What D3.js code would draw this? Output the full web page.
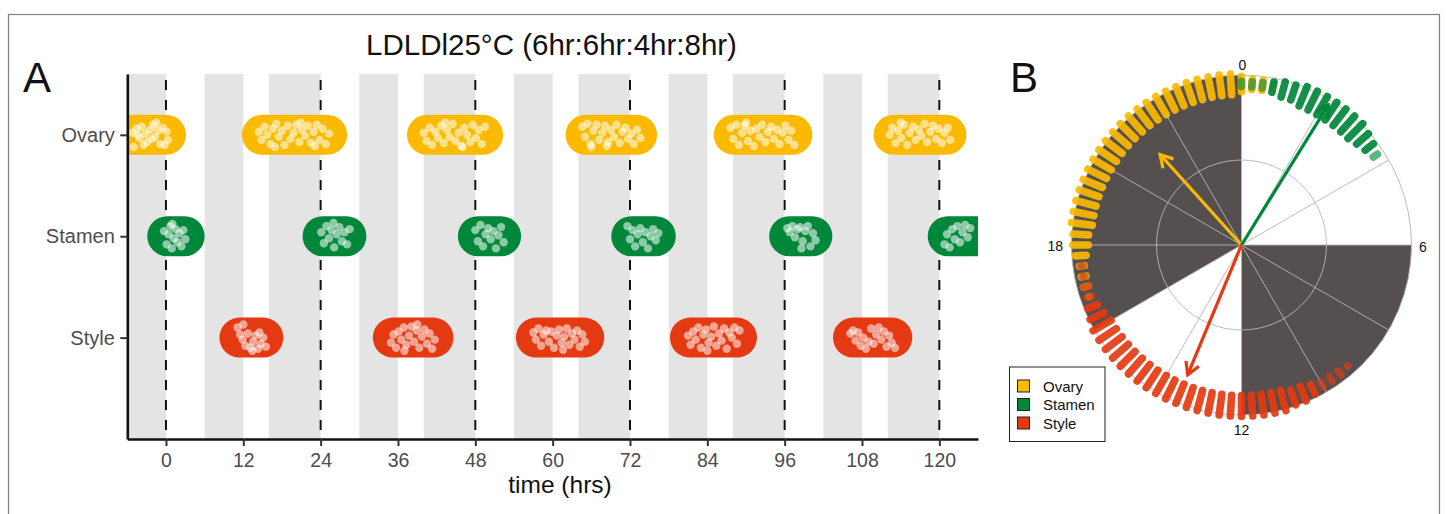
<!DOCTYPE html>
<html><head><meta charset="utf-8">
<script src="https://cdn.jsdelivr.net/npm/d3@7"></script>
<style>
body{margin:0;background:#fff}
svg{display:block}
text{font-family:"Liberation Sans",Arial,Helvetica,sans-serif}
</style>
</head><body>
<svg id="c" width="1447" height="514"></svg>
<script>
// ---------------- DATA ----------------
const organs = ["Ovary", "Stamen", "Style"];
const organLevel = [3, 2, 1];
const organColors = ["#FBBA00", "#00873A", "#E53912"];
const xTicks = [0, 12, 24, 36, 48, 60, 72, 84, 96, 108, 120];
const darkStart = [-8, 6, 16, 30, 40, 54, 64, 78, 88, 102, 112];
const darkEnd   = [0, 12, 24, 36, 48, 60, 72, 84, 96, 108, 120];
const dashHours = [0, 24, 48, 72, 96, 120];

// flowering windows (pill start / end, hours)
const ovaryStart  = [-8, 14.9, 40.5, 65.1, 88.1, 112.9];
const ovaryEnd    = [0, 25.0, 49.2, 73.1, 97.2, 121.1];
const stamenStart = [0.2, 24.3, 48.4, 72.2, 96.7, 121.3];
const stamenEnd   = [2.9, 28.0, 52.0, 76.0, 100.3, 126];
const styleStart  = [11.4, 35.2, 57.4, 81.3, 106.6];
const styleEnd    = [15.1, 41.5, 64.9, 88.6, 112.7];

// individual observations [hour, jitter in row units]
const ovaryObs = [
 [[-5.2,0.02],[-4.6,0.06],[-4.1,-0.03],[-3.8,0.08],[-3.2,0.01],[-2.9,-0.07],[-2.5,0.05],[-2.0,0.1],[-1.7,-0.02],[-1.2,0.04],[-0.9,-0.09],[-0.5,0.07],[0.1,0.03],[0.3,-0.05],[-3.5,-0.1],[-5.0,-0.12],[-1.5,0.12],[-0.2,-0.1],[-4.4,0.0],[-2.2,-0.04]],
 [[14.4,0.03],[14.8,-0.05],[15.3,0.08],[15.7,0.0],[16.2,-0.09],[16.6,0.06],[17.1,0.11],[17.5,-0.02],[18.0,0.04],[18.4,-0.1],[18.9,0.09],[19.3,-0.04],[19.8,0.02],[20.2,0.1],[20.7,-0.07],[21.1,0.05],[21.6,-0.01],[22.0,0.09],[22.5,-0.08],[22.9,0.03],[23.4,0.1],[23.8,-0.05],[24.3,0.06],[24.8,-0.09],[25.3,0.01],[16.9,-0.12],[20.9,0.12],[23.1,-0.11]],
 [[40.0,0.02],[40.4,-0.06],[40.9,0.07],[41.3,-0.1],[41.8,0.03],[42.2,-0.03],[42.7,0.09],[43.1,-0.08],[43.6,0.05],[44.0,-0.02],[44.5,0.11],[44.9,-0.06],[45.4,0.02],[45.8,-0.11],[46.3,0.07],[46.7,0.0],[47.2,-0.07],[47.6,0.1],[48.1,-0.03],[48.5,0.05],[49.0,-0.09],[49.5,0.08],[43.3,0.12],[46.0,-0.12]],
 [[64.6,0.08],[65.0,-0.02],[65.4,0.11],[65.9,-0.09],[66.3,0.04],[66.8,0.1],[67.2,-0.05],[67.7,0.02],[68.1,0.09],[68.6,-0.07],[69.0,0.05],[69.5,-0.02],[69.9,0.1],[70.4,-0.08],[70.8,0.03],[71.3,0.07],[71.7,-0.04],[72.2,0.01],[72.6,-0.09],[73.1,0.05],[73.6,-0.03],[66.0,-0.12],[68.4,-0.11]],
 [[87.6,0.07],[88.0,-0.04],[88.5,0.1],[88.9,-0.1],[89.4,0.02],[89.8,0.09],[90.3,-0.06],[90.7,0.04],[91.2,-0.11],[91.6,0.06],[92.1,-0.02],[92.5,0.1],[93.0,-0.07],[93.4,0.03],[93.9,0.08],[94.3,-0.04],[94.8,0.05],[95.2,-0.09],[95.7,0.02],[96.1,0.09],[96.6,-0.05],[97.0,0.04],[97.5,-0.1],[90.0,0.12]],
 [[112.3,0.0],[112.7,0.07],[113.2,-0.08],[113.6,0.04],[114.1,-0.03],[114.5,0.1],[115.0,-0.1],[115.4,0.02],[115.9,0.08],[116.3,-0.05],[116.8,0.05],[117.2,-0.01],[117.7,0.11],[118.1,-0.07],[118.6,0.03],[119.0,0.09],[119.5,-0.04],[119.9,0.06],[120.4,-0.08],[120.8,0.02],[121.3,0.07],[121.7,-0.05],[114.0,0.12]]
];
const stamenObs = [
 [[-0.3,0.05],[0.1,-0.08],[0.4,0.02],[0.7,0.1],[0.9,-0.12],[1.2,-0.02],[1.5,0.07],[1.8,-0.06],[2.1,0.03],[2.4,-0.1],[2.7,0.06],[3.0,-0.03],[1.0,0.12]],
 [[24.1,0.04],[24.5,-0.07],[24.9,0.1],[25.3,-0.02],[25.7,0.06],[26.1,-0.11],[26.5,0.02],[26.9,0.09],[27.3,-0.05],[27.7,0.04],[28.1,-0.08],[28.5,0.07],[26.0,0.13]],
 [[48.0,0.06],[48.4,-0.05],[48.8,0.11],[49.2,-0.1],[49.6,0.02],[50.0,0.08],[50.4,-0.03],[50.8,0.05],[51.2,-0.12],[51.6,0.01],[52.0,0.09],[52.4,-0.06]],
 [[71.6,0.1],[72.0,-0.03],[72.4,0.06],[72.8,-0.1],[73.2,0.02],[73.6,0.08],[74.0,-0.06],[74.4,0.04],[74.8,-0.12],[75.2,0.0],[75.6,0.07],[76.0,-0.04],[76.4,0.03]],
 [[96.4,0.08],[96.8,0.04],[97.2,0.1],[97.6,-0.01],[98.0,0.07],[98.4,0.09],[98.8,-0.05],[99.2,0.05],[99.6,0.1],[100.0,-0.1],[100.4,0.03],[100.8,-0.04],[98.6,-0.12]],
 [[120.8,-0.08],[121.2,0.02],[121.6,-0.11],[122.0,0.07],[122.4,-0.03],[122.8,0.1],[123.2,-0.06],[123.6,0.04],[124.0,0.11],[124.4,-0.01],[124.8,0.08]]
];
const styleObs = [
 [[11.1,0.1],[11.5,0.03],[11.9,-0.02],[12.3,-0.08],[12.7,0.04],[13.1,-0.1],[13.5,-0.04],[13.9,0.02],[14.3,-0.11],[14.7,-0.06],[15.1,0.0],[15.5,-0.09],[12.0,0.13],[13.4,-0.13],[14.5,0.05]],
 [[34.9,-0.05],[35.3,0.03],[35.7,-0.1],[36.1,0.06],[36.5,-0.02],[36.9,0.1],[37.3,-0.07],[37.7,0.02],[38.1,0.11],[38.5,-0.04],[38.9,0.07],[39.3,-0.1],[39.7,0.01],[40.1,0.08],[40.5,-0.06],[40.9,0.04],[41.3,-0.11],[41.7,-0.02],[37.0,-0.13],[39.0,0.13]],
 [[57.0,0.05],[57.4,-0.02],[57.8,0.09],[58.2,-0.08],[58.6,0.03],[59.0,0.07],[59.4,-0.04],[59.8,0.06],[60.2,-0.1],[60.6,0.02],[61.0,0.08],[61.4,-0.05],[61.8,0.01],[62.2,0.09],[62.6,-0.07],[63.0,0.04],[63.4,-0.02],[63.8,0.07],[64.2,-0.09],[64.6,0.03],[65.0,-0.04],[61.6,-0.12]],
 [[81.0,0.02],[81.4,-0.07],[81.8,0.06],[82.2,-0.02],[82.6,0.1],[83.0,-0.1],[83.4,0.03],[83.8,0.08],[84.2,-0.05],[84.6,0.01],[85.0,0.11],[85.4,-0.08],[85.8,0.04],[86.2,-0.03],[86.6,0.09],[87.0,-0.11],[87.4,0.05],[87.8,0.0],[88.2,0.1],[88.6,-0.06],[89.0,0.07],[84.0,-0.13]],
 [[106.2,0.04],[106.6,0.07],[107.0,-0.03],[107.4,0.05],[107.8,-0.08],[108.2,0.0],[108.6,-0.11],[109.0,-0.04],[109.4,0.09],[109.8,-0.06],[110.2,0.03],[110.6,0.1],[111.0,-0.02],[111.4,0.06],[111.8,-0.09],[112.2,0.02],[112.6,-0.05],[113.1,-0.1]]
];

// circular panel: time-of-day bins (hours) and number of observations per bin
const ovaryBinHours  = [16.75,17,17.25,17.5,17.75,18,18.25,18.5,18.75,19,19.25,19.5,19.75,20,20.25,20.5,20.75,21,21.25,21.5,21.75,22,22.25,22.5,22.75,23,23.25,23.5,23.75,0,0.25,0.5,0.75];
const ovaryBinCounts = [1,2,2,2,3,4,4,5,5,5,5,5,5,5,5,5,5,5,5,5,5,5,5,5,5,5,5,5,5,4,3,3,2];
const stamenBinHours  = [0,0.25,0.5,0.75,1,1.25,1.5,1.75,2,2.25,2.5,2.75,3,3.25,3.5,3.75];
const stamenBinCounts = [2,2,2,3,4,4,5,5,5,5,5,5,5,4,3,2];
const styleBinHours  = [9.25,9.5,9.75,10,10.25,10.5,10.75,11,11.25,11.5,11.75,12,12.25,12.5,12.75,13,13.25,13.5,13.75,14,14.25,14.5,14.75,15,15.25,15.5,15.75,16,16.25,16.5,16.75,17,17.25,17.5];
const styleBinCounts = [1,2,2,2,3,4,4,5,5,5,5,5,5,5,5,5,5,5,5,5,5,5,5,5,5,5,5,5,4,3,2,2,1,1];
const meanHours   = [21.2, 2.12, 13.5];
const meanLengths = [0.716, 0.968, 0.826];
const dialTicks = [0, 6, 12, 18];
const spokeHours = [0,2,4,6,8,10,12,14,16,18,20,22];
const dialDarkStart = [6, 16];
const dialDarkEnd   = [12, 24];

// ---------------- DRAW ----------------
const svg = d3.select("#c");
const F = '"Liberation Sans",Arial,Helvetica,sans-serif';

// outer frame
svg.append("rect").attr("x",8.5).attr("y",14.5).attr("width",1431).attr("height",520)
  .attr("fill","none").attr("stroke","#808080").attr("stroke-width",1.2);

// panel A
const x = d3.scaleLinear().domain([-6, 126]).range([127.3, 978]);
const y = d3.scaleLinear().domain([0, 3.6]).range([439, 74]);
const A = svg.append("g");
A.append("clipPath").attr("id","clipA").append("rect")
  .attr("x",x(-6)).attr("y",y(3.6)).attr("width",x(126)-x(-6)).attr("height",y(0)-y(3.6));
const plot = A.append("g").attr("clip-path","url(#clipA)");

plot.selectAll("rect.dark").data(darkStart.map((s,i)=>[s,darkEnd[i]])).join("rect")
  .attr("class","dark").attr("x",d=>x(d[0])).attr("width",d=>x(d[1])-x(d[0]))
  .attr("y",y(3.6)).attr("height",y(0)-y(3.6)).attr("fill","#e5e4e5");

plot.selectAll("line.dash").data(dashHours).join("line").attr("class","dash")
  .attr("x1",d=>x(d)).attr("x2",d=>x(d)).attr("y1",y(3.6)).attr("y2",y(0))
  .attr("stroke","#111").attr("stroke-width",2).attr("stroke-dasharray","10,10").attr("stroke-dashoffset",14);

const pillSets = [
  {s:ovaryStart, e:ovaryEnd, obs:ovaryObs, i:0},
  {s:stamenStart, e:stamenEnd, obs:stamenObs, i:1},
  {s:styleStart, e:styleEnd, obs:styleObs, i:2}
];
pillSets.forEach(p=>{
  const lvl = organLevel[p.i];
  plot.append("g").selectAll("line").data(p.s.map((s,k)=>[s,p.e[k]])).join("line")
    .attr("x1",d=>x(d[0])).attr("x2",d=>x(d[1])).attr("y1",y(lvl)).attr("y2",y(lvl))
    .attr("stroke",organColors[p.i]).attr("stroke-width",40).attr("stroke-linecap","round");
  const pts = p.obs.flat();
  plot.append("g").selectAll("circle").data(pts).join("circle")
    .attr("cx",d=>x(d[0])).attr("cy",d=>y(lvl + d[1]))
    .attr("r",4.2).attr("fill","#ffffff").attr("fill-opacity",0.55);
});

// axes
const xAxis = d3.axisBottom(x).tickValues(xTicks).tickSize(7).tickPadding(7).tickSizeOuter(0);
const gx = A.append("g").attr("transform",`translate(0,${y(0)})`).call(xAxis);
gx.select(".domain").attr("stroke","#111").attr("stroke-width",2.6);
gx.selectAll(".tick line").attr("stroke","#333").attr("stroke-width",2);
gx.selectAll(".tick text").attr("fill","#4d4d4d").style("font-size","19.5px").style("font-family",F);

const yAxis = d3.axisLeft(y).tickValues(organLevel).tickFormat((d,i)=>organs[organLevel.indexOf(d)])
  .tickSize(7).tickPadding(5.5).tickSizeOuter(0);
const gy = A.append("g").attr("transform",`translate(${x(-6)},0)`).call(yAxis);
gy.select(".domain").attr("stroke","#111").attr("stroke-width",2.6);
gy.selectAll(".tick line").attr("stroke","#333").attr("stroke-width",2);
gy.selectAll(".tick text").attr("fill","#4d4d4d").style("font-size","20px").style("font-family",F);

svg.append("text").attr("x",560).attr("y",493).attr("text-anchor","middle")
  .style("font-size","24.5px").attr("fill","#111").text("time (hrs)");
svg.append("text").attr("x",551.5).attr("y",55).attr("text-anchor","middle")
  .style("font-size","29.5px").attr("fill","#111").text("LDLDl25°C (6hr:6hr:4hr:8hr)");
svg.append("text").attr("x",23).attr("y",92).style("font-size","42px").attr("fill","#111").text("A");
svg.append("text").attr("x",1010).attr("y",92).style("font-size","42px").attr("fill","#111").text("B");

// panel B (circular)
const cx = 1241.5, cy = 245;
const rS = d3.scaleLinear().domain([0,1]).range([0,170]);
const aS = d3.scaleLinear().domain([0,24]).range([0,2*Math.PI]);
const pol = (h,r)=>{const a=aS(h); return [cx + r*Math.sin(a), cy - r*Math.cos(a)];};
const B = svg.append("g");
const arc = d3.arc();
B.selectAll("path.dk").data(dialDarkStart.map((s,i)=>[s,dialDarkEnd[i]])).join("path")
  .attr("class","dk").attr("transform",`translate(${cx},${cy})`)
  .attr("d",d=>arc({innerRadius:0,outerRadius:rS(1),startAngle:aS(d[0]),endAngle:aS(d[1])}))
  .attr("fill","#55504f");
B.selectAll("circle.grid").data([0.5,1]).join("circle").attr("class","grid")
  .attr("cx",cx).attr("cy",cy).attr("r",d=>rS(d)).attr("fill","none")
  .attr("stroke","#b5b5b5").attr("stroke-width",0.9);
B.selectAll("line.spoke").data(spokeHours).join("line").attr("class","spoke")
  .attr("x1",cx).attr("y1",cy).attr("x2",d=>pol(d,rS(1))[0]).attr("y2",d=>pol(d,rS(1))[1])
  .attr("stroke","#b5b5b5").attr("stroke-width",0.9);

const binSets = [
  {h:ovaryBinHours, n:ovaryBinCounts, i:0},
  {h:stamenBinHours, n:stamenBinCounts, i:1},
  {h:styleBinHours, n:styleBinCounts, i:2}
];
binSets.forEach(b=>{
  const data = b.h.map((h,k)=>({h, n:b.n[k]}));
  B.append("g").selectAll("line").data(data).join("line")
    .attr("x1",d=>pol(d.h, rS(0.947) - (d.n-1)*2.6)[0])
    .attr("y1",d=>pol(d.h, rS(0.947) - (d.n-1)*2.6)[1])
    .attr("x2",d=>pol(d.h, rS(0.947) + (d.n-1)*2.6 + 0.01)[0])
    .attr("y2",d=>pol(d.h, rS(0.947) + (d.n-1)*2.6 + 0.01)[1])
    .attr("stroke",organColors[b.i]).attr("stroke-width",7.6).attr("stroke-linecap","round")
    .attr("stroke-opacity",d=>d.n>=3?0.92:0.62);
});

// mean vectors
organs.forEach((o,i)=>{
  const tip = pol(meanHours[i], rS(meanLengths[i]));
  const a = aS(meanHours[i]);
  const hl = 14, ha = Math.PI/6;
  const back = (da)=>[tip[0] - hl*Math.sin(a+da), tip[1] + hl*Math.cos(a+da)];
  const g = B.append("g").attr("stroke",organColors[i]).attr("stroke-width",3.2).attr("fill","none")
    .attr("stroke-linecap","butt").attr("stroke-linejoin","miter");
  g.append("line").attr("x1",cx).attr("y1",cy).attr("x2",tip[0]).attr("y2",tip[1]);
  g.append("path").attr("d",d3.line()([back(ha), tip, back(-ha)]));
});

// dial labels
const lbl = B.append("g").style("font-size","14px").attr("fill","#111");
lbl.append("text").attr("x",cx+1).attr("y",69.5).attr("text-anchor","middle").text(dialTicks[0]);
lbl.append("text").attr("x",1419).attr("y",252).attr("text-anchor","start").text(dialTicks[1]);
lbl.append("text").attr("x",cx).attr("y",435).attr("text-anchor","middle").text(dialTicks[2]);
lbl.append("text").attr("x",1063).attr("y",250.5).attr("text-anchor","end").text(dialTicks[3]);

// legend
const L = svg.append("g");
L.append("rect").attr("x",1009.5).attr("y",367).attr("width",95.5).attr("height",74.5)
  .attr("fill","#fff").attr("stroke","#222").attr("stroke-width",1);
const ly = d3.scalePoint().domain(organs).range([386, 423]);
organs.forEach((o,i)=>{
  L.append("rect").attr("x",1017.5).attr("y",ly(o)-6).attr("width",12).attr("height",12)
    .attr("fill",organColors[i]).attr("stroke","#222").attr("stroke-width",1);
  L.append("text").attr("x",1043).attr("y",ly(o)+5.5).style("font-size","15px").attr("fill","#111").text(o);
});
</script>
</body></html>
